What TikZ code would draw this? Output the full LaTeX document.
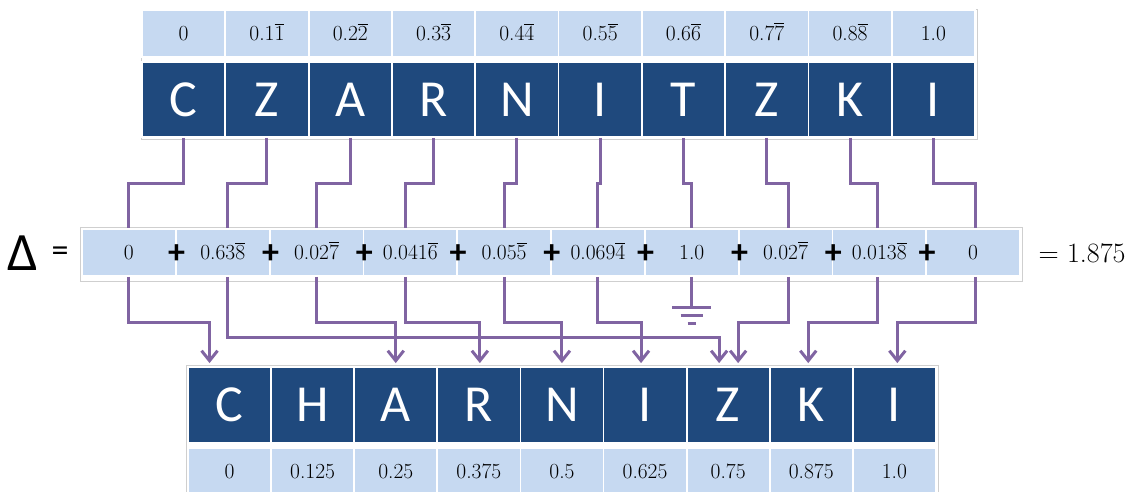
\documentclass[tikz,border=0pt]{standalone}
\usepackage{fontspec}
\newfontfamily\carlito{Carlito}
\usetikzlibrary{arrows.meta,calc}
\definecolor{lightcell}{HTML}{C6D9F1}
\definecolor{darkcell}{HTML}{1F497D}
\definecolor{connc}{HTML}{8064A2}
\definecolor{framec}{HTML}{CFCFCF}
\newcommand\ovl[1]{\leavevmode\vbox{\hrule height 0.9pt\kern 1.6pt\hbox{#1}}}
\begin{document}
\begin{tikzpicture}[x=1pt,y=-1pt,
  valcell/.style={rectangle, fill=lightcell, draw=white, line width=1.8pt, inner sep=0pt,
    minimum height=47pt, text height=14pt, text depth=0pt,
    font=\fontsize{21.5}{21.5}\selectfont},
  letcell/.style={rectangle, fill=darkcell, draw=white, line width=1.8pt, inner sep=0pt,
    text=white, font=\carlito\fontsize{52}{52}\selectfont},
  plussign/.style={inner sep=0pt, font=\carlito\bfseries\fontsize{34}{34}\selectfont},
  tblframe/.style={draw=framec, line width=0.8pt},
  connline/.style={draw=connc, line width=3pt},
  connarrow/.style={connline, -{Straight Barb[length=10pt,width=16pt]}},
]
\useasboundingbox (0,0) rectangle (1130,492);

% ---------- top table ----------
\draw[tblframe] (141,9) rectangle (977,139);
\foreach \v [count=\i] in {0,0.1\ovl{1},0.2\ovl{2},0.3\ovl{3},0.4\ovl{4},0.5\ovl{5},0.6\ovl{6},0.7\ovl{7},0.8\ovl{8},1.0}
  \node[valcell, minimum width=83.3pt] (tv\i) at ({142+83.3*(\i-0.5)},33.5) {\v};
\foreach \l [count=\i] in {C,Z,A,R,N,I,T,Z,K,I}
  \node[letcell, minimum width=83.3pt, minimum height=75pt] (tl\i) at ({142+83.3*(\i-0.5)},99.5) {\l};

% ---------- delta row ----------
\draw[tblframe] (80,227) rectangle (1022,281);
\foreach \v [count=\i] in {0,0.63\ovl{8},0.02\ovl{7},0.041\ovl{6},0.05\ovl{5},0.069\ovl{4},1.0,0.02\ovl{7},0.013\ovl{8},0}
  \node[valcell, minimum width=93.8pt] (d\i) at ({82+93.8*(\i-0.5)},252.5) {\v};
\foreach \i in {1,...,9}
  \node[plussign] (p\i) at ($(d\i.east)+(0,1.5)$) {+};
\node[inner sep=0pt, font=\carlito\fontsize{54}{54}\selectfont] (delta) at (23,253) {Δ};
\node[inner sep=0pt, font=\carlito\fontsize{34}{34}\selectfont] (deq) at (60,254) {=};
\node[inner sep=0pt, font=\fontsize{28}{28}\selectfont] (res) at (1082,253) {= 1.875};

% ---------- bottom table ----------
\draw[tblframe] (186,365) rectangle (938,496);
\foreach \l [count=\i] in {C,H,A,R,N,I,Z,K,I}
  \node[letcell, minimum width=83.1pt, minimum height=76pt] (bl\i) at ({188+83.1*(\i-0.5)},405) {\l};
\foreach \v [count=\i] in {0,0.125,0.25,0.375,0.5,0.625,0.75,0.875,1.0}
  \node[valcell, minimum width=83.1pt, minimum height=46pt] (bv\i) at ({188+83.1*(\i-0.5)},471) {\v};

% ---------- connectors: top letters -> delta cells ----------
\coordinate (jog) at (0,183);
\foreach \i/\dx in {1/0,2/5,3/0,4/-5,5/0,6/0,7/0,8/3,9/-2,10/2} {
  \path ($(d\i.north)+(\dx,0)$) coordinate (dt\i);
  \path ($(d\i.south)+(\dx,0)$) coordinate (db\i);
  \draw[connline] (tl\i.south) |- (jog -| dt\i) -- (dt\i);
}

% ---------- connectors: delta cells -> bottom letters ----------
\foreach \s/\t/\dx/\jy in {1/1/-20/322, 2/7/-9/337, 3/3/0/322, 4/4/1/322, 5/5/0/322, 6/6/-4/322, 8/7/10/322, 9/8/-3/322, 10/9/3/322} {
  \path ($(bl\t.north)+(\dx,-3)$) coordinate (tg);
  \coordinate (jj) at (0,\jy);
  \draw[connarrow] (db\s) |- (jj -| tg) -- (tg);
}

% ---------- ground ----------
\draw[connline] (db7) -- ++(0,31) coordinate (g);
\draw[connline] ($(g)+(-19.5,0)$) -- ($(g)+(19.5,0)$);
\draw[connline] ($(g)+(-11,8)$) -- ($(g)+(11,8)$);
\draw[connline] ($(g)+(-4,16)$) -- ($(g)+(4,16)$);
\end{tikzpicture}
\end{document}
